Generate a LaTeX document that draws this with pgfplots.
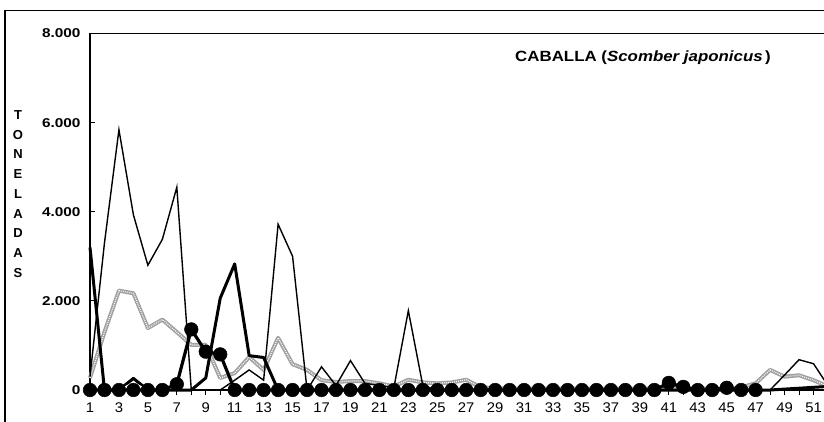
\documentclass[border=0pt]{standalone}
\usepackage{fontspec}
\setmainfont{Liberation Sans}
\newfontfamily\ttlfont[FakeStretch=1.14]{Liberation Sans}
\newfontfamily\ytkfont[FakeStretch=1.2]{Liberation Sans}
\newfontfamily\xtkfont[FakeStretch=1.06]{Liberation Sans}
\usepackage{pgfplots}
\usepackage{pgfplotstable}
\pgfplotsset{compat=1.18}

% thin black line
\pgfplotstableread{
x y
1 300
2 3300
3 5840
4 3930
5 2800
6 3380
7 4550
8 0
9 0
10 0
11 220
12 450
13 220
14 3720
15 3000
16 0
17 520
18 100
19 660
20 150
21 100
22 50
23 1780
24 100
25 0
26 0
27 0
28 0
29 0
30 0
31 0
32 0
33 0
34 0
35 0
36 0
37 0
38 0
39 0
40 0
41 0
42 0
43 0
44 0
45 0
46 0
47 0
48 0
49 336
50 680
51 590
52 100
}\thinA

% thick black line
\pgfplotstableread{
x y
1 3200
2 0
3 0
4 260
5 0
6 0
7 0
8 0
9 270
10 2060
11 2830
12 770
13 730
14 0
15 0
16 0
17 0
18 0
19 0
20 0
21 0
22 0
23 0
24 0
25 0
26 0
27 0
28 0
29 0
30 0
31 0
32 0
33 0
34 0
35 0
36 0
37 0
38 0
39 0
40 0
41 0
42 0
43 0
44 0
45 0
46 0
47 0
48 0
49 20
50 40
51 60
52 80
}\thickB

% circles
\pgfplotstableread{
x y
1 0
2 0
3 0
4 0
5 0
6 0
7 130
8 1360
9 860
10 800
11 0
12 0
13 0
14 0
15 0
16 0
17 0
18 0
19 0
20 0
21 0
22 0
23 0
24 0
25 0
26 0
27 0
28 0
29 0
30 0
31 0
32 0
33 0
34 0
35 0
36 0
37 0
38 0
39 0
40 0
41 160
42 70
43 0
44 0
45 50
46 0
47 0
}\circC

% grey textured line
\pgfplotstableread{
x y
1 270
2 1300
3 2230
4 2170
5 1390
6 1580
7 1300
8 1010
9 1010
10 270
11 380
12 740
13 450
14 1170
15 580
16 450
17 220
18 180
19 200
20 200
21 150
22 80
23 230
24 170
25 150
26 170
27 230
28 60
29 40
30 30
31 30
32 30
33 30
34 30
35 30
36 30
37 30
38 30
39 30
40 30
41 60
42 30
43 30
44 30
45 30
46 60
47 150
48 450
49 300
50 330
51 220
52 80
}\greyD

\pgfplotstableread{
x y
3 0
4 170
5 0
}\whiteE

\begin{document}
\begin{tikzpicture}
\useasboundingbox (0pt,0pt) rectangle (824pt,421pt);
\clip (0pt,0pt) rectangle (824pt,421pt);
\draw[line width=1.6pt] (5pt,-20pt) rectangle (900pt,410.5pt);
\begin{axis}[
  at={(90pt,31pt)}, anchor=south west,
  scale only axis, width=737.97pt, height=356.5pt,
  xmin=1, xmax=52, ymin=0, ymax=8000,
  clip=false,
  axis line style={line width=1.6pt},
  xtick={1,3,...,51}, minor xtick={2,4,...,52},
  ytick={0,2000,4000,6000,8000},
  xtick pos=bottom, ytick pos=left,
  tick align=outside,
  major tick length=5pt, minor tick length=5pt,
  every tick/.style={black, line width=1pt},
  ytick style={xshift=5pt},
  /pgf/number format/.cd, 1000 sep={.}, assume math mode=true,
  /pgfplots/.cd,
  yticklabel style={font=\ytkfont\bfseries\fontsize{12.8}{14}\selectfont, xshift=-1pt},
  xticklabel style={font=\xtkfont\fontsize{14}{16}\selectfont, yshift=-4pt},
]
\addplot[gray!75, line width=4pt, line join=round] table {\greyD};
\addplot[white, line width=1.2pt, dash pattern=on 0.9pt off 1.1pt] table {\greyD};
\addplot[black, line width=3pt, line join=round] table {\thickB};
\addplot[white, line width=1pt] table {\whiteE};
\addplot[black, line width=1.4pt, line join=miter] table {\thinA};
\addplot[black, line width=3.2pt, mark=*, mark size=6.8pt, mark options={line width=0.5pt}] table {\circC};
\end{axis}
\node[font=\ttlfont\bfseries\fontsize{14.8}{17}\selectfont] at (643pt,363pt) {CABALLA (\textit{Scomber japonicus}\,)};
\node[font=\bfseries\fontsize{13}{19.75}\selectfont, align=center] at (18pt,227pt) {T\\O\\N\\E\\L\\A\\D\\A\\S};
\end{tikzpicture}
\end{document}
